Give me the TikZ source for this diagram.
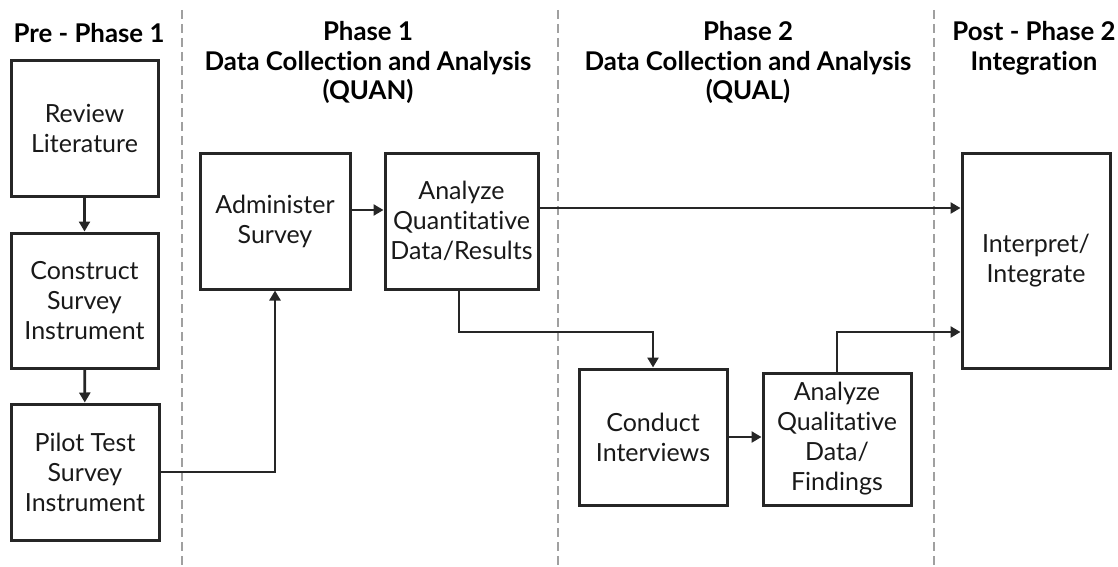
\documentclass[tikz,border=0pt]{standalone}
\usepackage{fontspec}
\setmainfont{Lato}[Ligatures={NoCommon}]
\usetikzlibrary{arrows.meta}
\definecolor{ink}{HTML}{262626}
\definecolor{lanegray}{HTML}{A0A0A0}
\begin{document}
\begin{tikzpicture}[x=1pt,y=-1pt,
  box/.style={draw=ink, line width=3pt, align=center, inner sep=0pt,
    font=\fontsize{25}{30}\selectfont, text=black!90},
  head/.style={align=center, inner sep=0pt, font=\bfseries\fontsize{25.8}{29.5}\selectfont},
  flow/.style={draw=ink, line width=2.8pt, -{Triangle[length=10pt,width=11pt]}},
  lane/.style={draw=lanegray, line width=2.4pt, dash pattern=on 9pt off 5pt}]
\useasboundingbox (0,0) rectangle (1118,567);

% swim-lane separators
\draw[lane] (182,10) -- (182,567);
\draw[lane] (558,10) -- (558,567);
\draw[lane] (934,10) -- (934,567);

% lane headings
\node[head] (h0) at (89,33) {Pre - Phase 1};
\node[head, anchor=north] (h1) at (368,21.5) {Phase 1\\Data Collection and Analysis\\(QUAN)};
\node[head, anchor=north] (h2) at (748,21.5) {Phase 2\\Data Collection and Analysis\\(QUAL)};
\node[head, anchor=north] (h3) at (1034,21.5) {Post - Phase 2\\Integration};

% process steps
\node[box, minimum width=147pt, minimum height=135pt] (rev) at (84.5,128.5) {Review\\Literature};
\node[box, minimum width=147pt, minimum height=135pt] (cons) at (84.5,300.5) {Construct\\Survey\\Instrument};
\node[box, minimum width=148pt, minimum height=136pt] (pil) at (85,472) {Pilot Test\\Survey\\Instrument};
\node[box, minimum width=150pt, minimum height=136pt] (adm) at (275,221) {Administer\\Survey};
\node[box, minimum width=153pt, minimum height=136pt] (aqn) at (461.5,221) {Analyze\\Quantitative\\Data/Results};
\node[box, minimum width=148pt, minimum height=136pt] (cint) at (653,437) {Conduct\\Interviews};
\node[box, minimum width=148pt, minimum height=132pt] (aql) at (837,439) {Analyze\\Qualitative\\Data/\\Findings};
\node[box, minimum width=148pt, minimum height=215pt] (intg) at (1036,260.5) {Interpret/\\Integrate};

% connectors
\draw[flow] (rev) -- (cons);
\draw[flow] (cons) -- (pil);
\draw[flow] (pil.east) -| (adm.south);
\draw[flow] (adm.east |- 0,210) -- (aqn.west |- 0,210);
\draw[flow] (aqn.east |- 0,208) -- (intg.west |- 0,208);
\draw[flow] (aqn.south -| 459,0) -- (459,332) -| (cint.north);
\draw[flow] (cint.east |- 0,437) -- (aql.west |- 0,437);
\draw[flow] (aql.north) -- (aql.north |- 0,332) -- (intg.west |- 0,332);
\end{tikzpicture}
\end{document}
